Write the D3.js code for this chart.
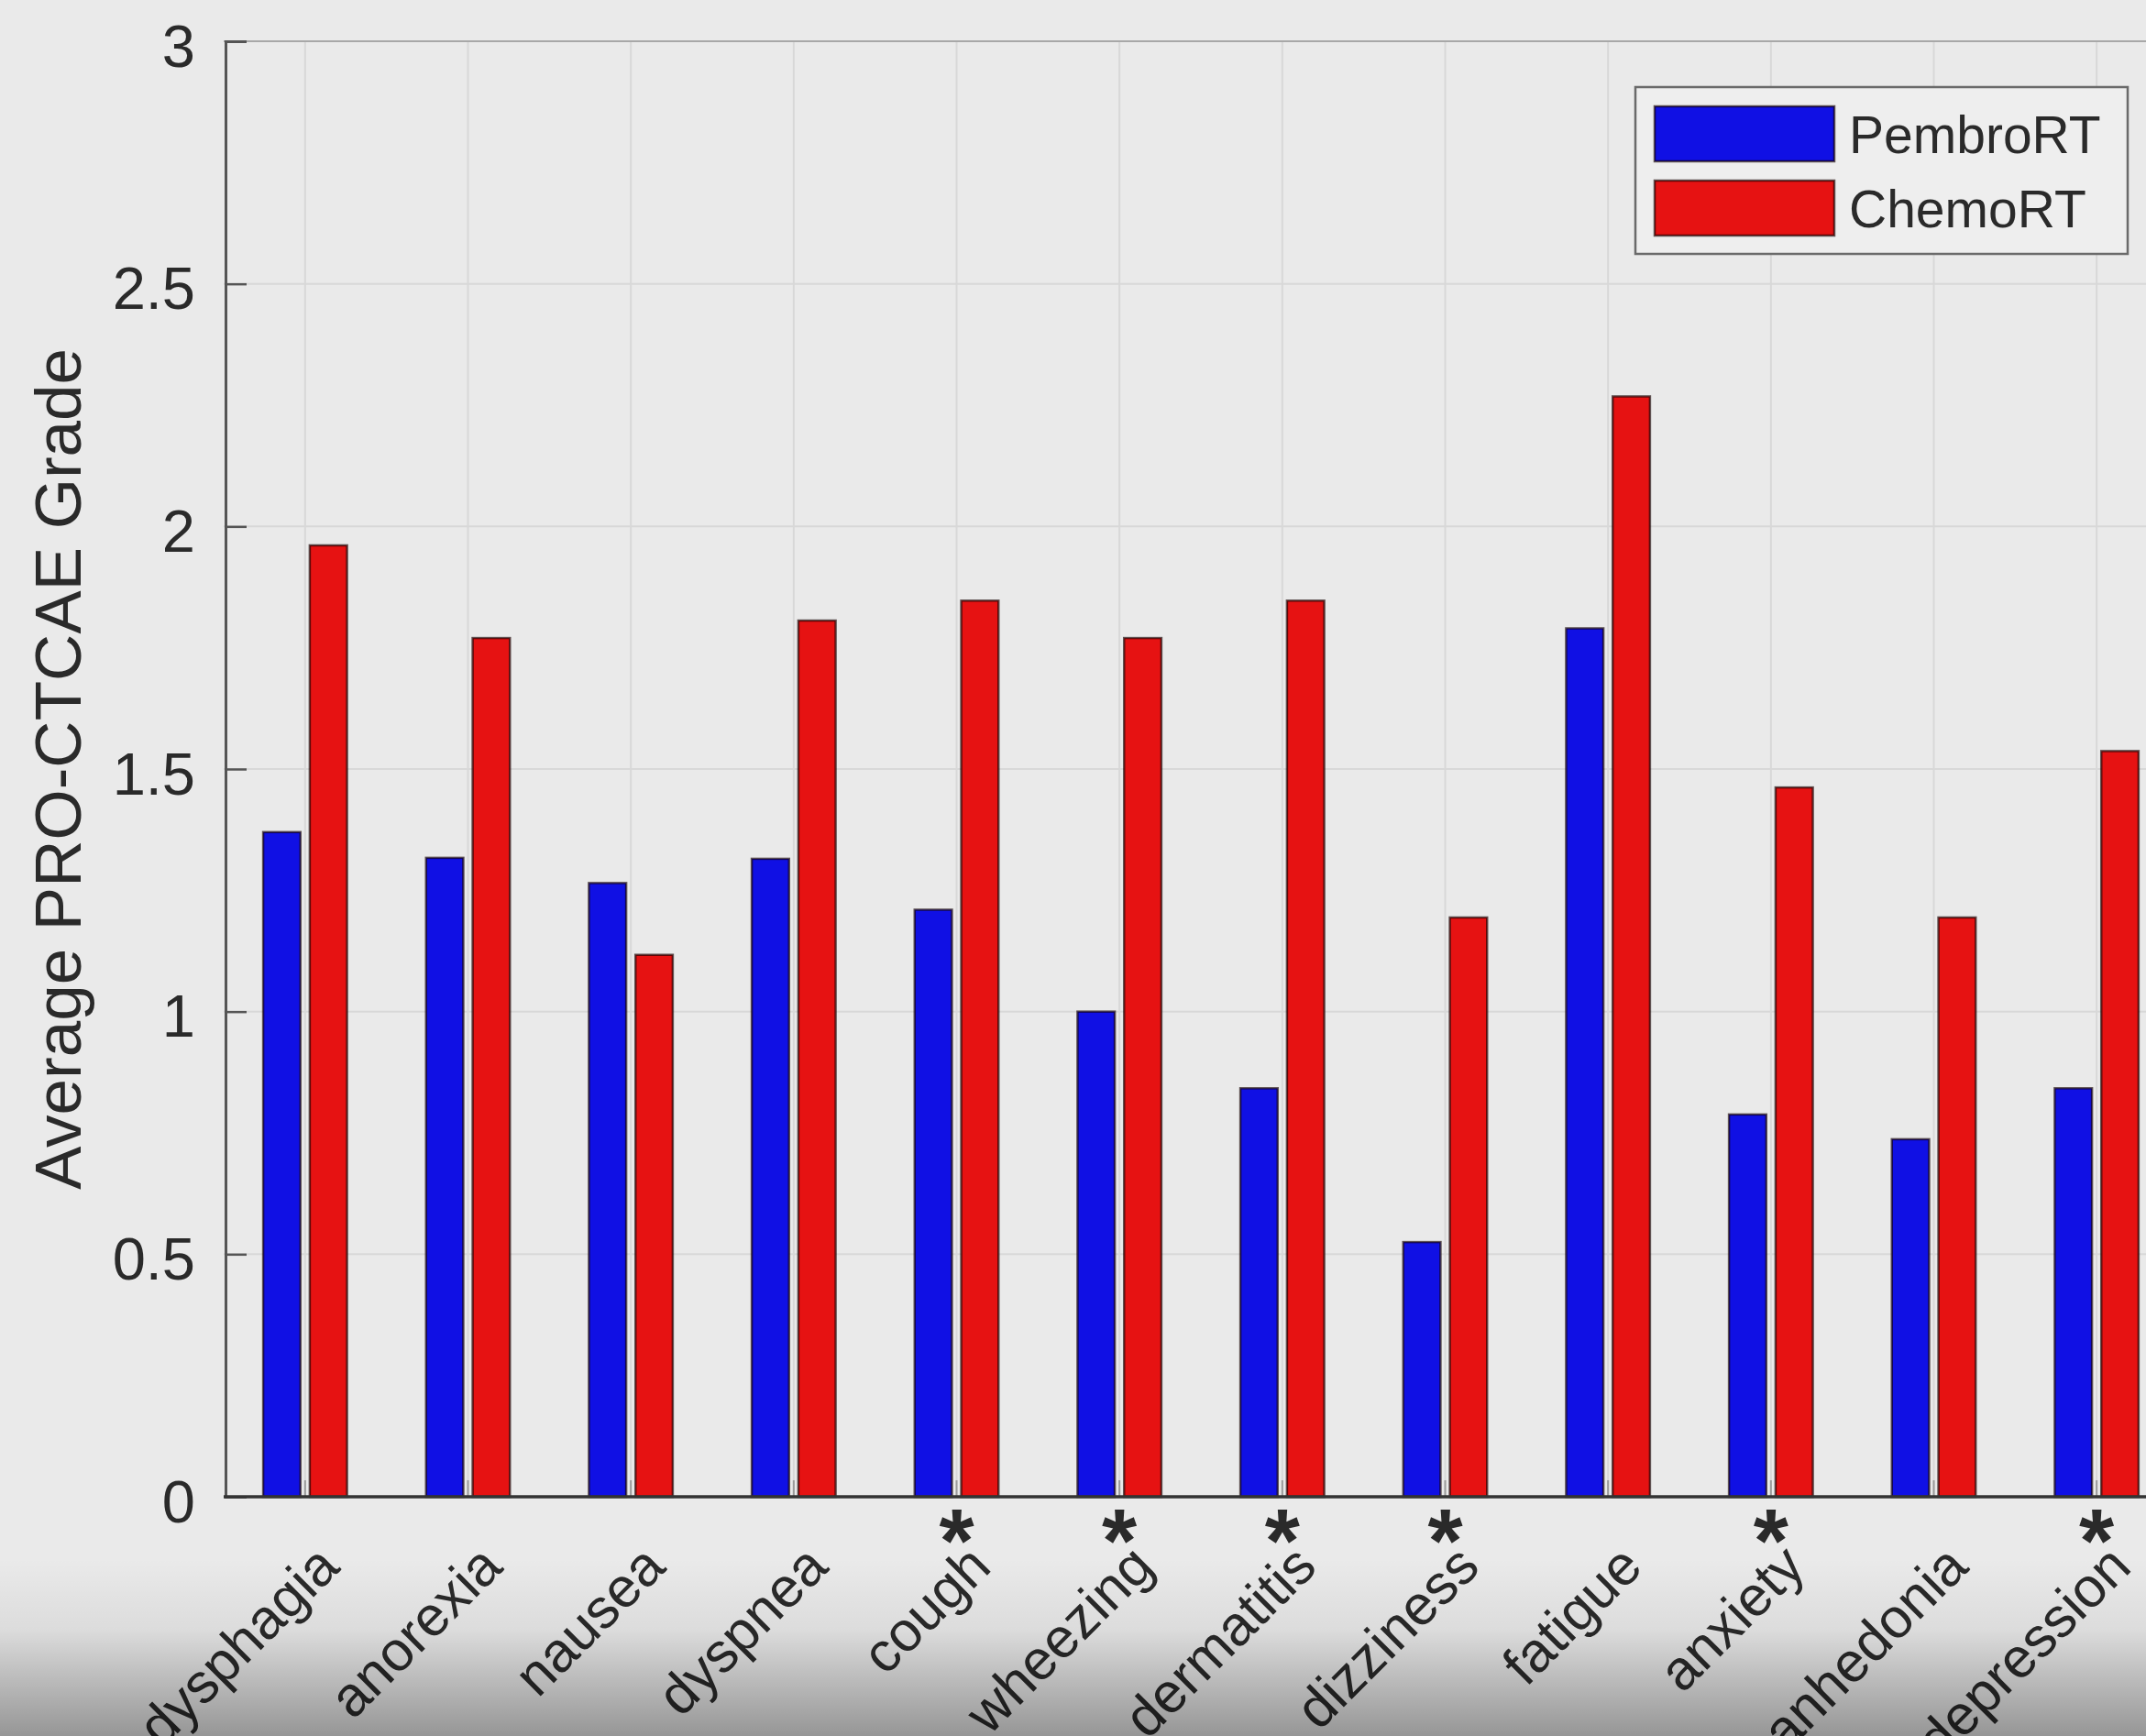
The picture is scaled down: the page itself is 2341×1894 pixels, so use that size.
<!DOCTYPE html>
<html>
<head>
<meta charset="utf-8">
<script src="https://cdn.jsdelivr.net/npm/d3@7"></script>
<style>
  html, body { margin: 0; padding: 0; background: #eaeaea; }
  svg { display: block; }
  text { font-family: "Liberation Sans", Arial, Helvetica, sans-serif; fill: #2a2a2a; }
</style>
</head>
<body>
<svg id="chart" width="2341" height="1894"></svg>
<script>
// Symptom categories (x axis)
const categories = ["dysphagia", "anorexia", "nausea", "dyspnea", "cough", "wheezing",
                    "dermatitis", "dizziness", "fatigue", "anxiety", "anhedonia", "depression"];
// Mean grade per arm
const pembroRT = [1.37, 1.317, 1.265, 1.315, 1.21, 1.0, 0.842, 0.525, 1.79, 0.788, 0.737, 0.842];
const chemoRT  = [1.961, 1.77, 1.117, 1.806, 1.847, 1.77, 1.847, 1.194, 2.268, 1.462, 1.194, 1.537];
// Categories with a significant difference between arms
const significant = ["cough", "wheezing", "dermatitis", "dizziness", "anxiety", "depression"];
// Axis ticks
const yTicks = [0, 0.5, 1, 1.5, 2, 2.5, 3];
const yTickLabels = ["0", "0.5", "1", "1.5", "2", "2.5", "3"];
const seriesNames = ["PembroRT", "ChemoRT"];
const seriesColors = ["#1010e4", "#e61212"];

const svg = d3.select("#chart");
const W = 2341, H = 1894;

svg.append("rect").attr("width", W).attr("height", H).attr("fill", "#eaeaea");

// Scales: category k sits at x = k (1-based), grouped bars offset around it
const x = d3.scaleLinear().domain([0.5, 12.5]).range([244, 2376]);
const y = d3.scaleLinear().domain([0, 3]).range([1633, 45]);
const unit = x(2) - x(1);
const barW = 0.229;          // bar width in category units
const offsets = [-0.143, 0.143];

const plot = svg.append("g");

// Grid
plot.append("g").selectAll("line.hg").data(yTicks.slice(1)).join("line")
  .attr("x1", x(0.5)).attr("x2", W)
  .attr("y1", d => y(d)).attr("y2", d => y(d))
  .attr("stroke", "#d8d8d8").attr("stroke-width", 2);
plot.append("g").selectAll("line.vg").data(categories).join("line")
  .attr("x1", (d, i) => x(i + 1)).attr("x2", (d, i) => x(i + 1))
  .attr("y1", y(3)).attr("y2", y(0))
  .attr("stroke", "#d8d8d8").attr("stroke-width", 2);

// Top box edge
plot.append("line")
  .attr("x1", x(0.5)).attr("x2", W).attr("y1", y(3)).attr("y2", y(3))
  .attr("stroke", "#a8a8a8").attr("stroke-width", 2);

// Bars
const series = [pembroRT, chemoRT];
series.forEach((vals, s) => {
  plot.append("g").selectAll("rect").data(vals).join("rect")
    .attr("x", (d, i) => x(i + 1 + offsets[s] - barW / 2))
    .attr("width", barW * unit)
    .attr("y", d => y(d))
    .attr("height", d => y(0) - y(d))
    .attr("fill", seriesColors[s])
    .attr("stroke", "rgba(20,0,0,0.65)")
    .attr("stroke-width", 2.5);
});

// Category ticks (inward)
plot.append("g").selectAll("line").data(categories).join("line")
  .attr("x1", (d, i) => x(i + 1)).attr("x2", (d, i) => x(i + 1))
  .attr("y1", y(0)).attr("y2", y(0) - 18)
  .attr("stroke", "#9a9a9a").attr("stroke-width", 2);

// Y axis: line, inward ticks, labels
const yAxis = d3.axisLeft(y).tickValues(yTicks).tickSize(-23)
  .tickFormat((d, i) => yTickLabels[i]).tickPadding(33);
const gy = svg.append("g").attr("transform", `translate(${x(0.5) + 2},0)`).call(yAxis);
gy.select(".domain").attr("stroke", "#555").attr("stroke-width", 3);
gy.selectAll(".tick line").attr("stroke", "#555").attr("stroke-width", 2.5);
gy.selectAll(".tick text")
  .attr("font-size", 65).attr("dy", 27).attr("fill", "#2a2a2a")
  .style("font-family", "'Liberation Sans', Arial, sans-serif");

// X axis baseline
svg.append("line")
  .attr("x1", x(0.5)).attr("x2", W).attr("y1", y(0)).attr("y2", y(0))
  .attr("stroke", "#333").attr("stroke-width", 3.5);

// Rotated category labels
svg.append("g").selectAll("text").data(categories).join("text")
  .attr("transform", (d, i) => `translate(${x(i + 1) + 40},${y(0) + 79}) rotate(-45)`)
  .attr("text-anchor", "end")
  .attr("font-size", 61)
  .text(d => d);

// Significance markers
svg.append("g").selectAll("text").data(significant).join("text")
  .attr("x", d => x(categories.indexOf(d) + 1))
  .attr("y", y(0) + 82)
  .attr("text-anchor", "middle")
  .attr("font-size", 98)
  .attr("font-weight", "bold")
  .attr("fill", "#111")
  .text("*");

// Y axis title
svg.append("text")
  .attr("transform", `translate(88,839) rotate(-90)`)
  .attr("text-anchor", "middle")
  .attr("font-size", 71)
  .text("Average PRO-CTCAE Grade");

// Legend
const lg = svg.append("g");
lg.append("rect").attr("x", 1784).attr("y", 95).attr("width", 537).attr("height", 182)
  .attr("fill", "#eeeeee").attr("stroke", "#6a6a6a").attr("stroke-width", 2.5);
seriesNames.forEach((name, s) => {
  const top = [116, 197][s];
  lg.append("rect").attr("x", 1805).attr("y", top).attr("width", 196).attr("height", 60)
    .attr("fill", seriesColors[s]).attr("stroke", "rgba(20,0,0,0.65)").attr("stroke-width", 2.5);
  lg.append("text").attr("x", 2017).attr("y", top + 51)
    .attr("font-size", 57).text(name);
});

// Darkened strip along the bottom edge
const defs = svg.append("defs");
const grad = defs.append("linearGradient").attr("id", "shade")
  .attr("gradientUnits", "userSpaceOnUse").attr("x1", 0).attr("x2", 0).attr("y1", 1700).attr("y2", H);
grad.append("stop").attr("offset", 0).attr("stop-color", "#000").attr("stop-opacity", 0);
grad.append("stop").attr("offset", 0.4).attr("stop-color", "#000").attr("stop-opacity", 0.06);
grad.append("stop").attr("offset", 1).attr("stop-color", "#000").attr("stop-opacity", 0.36);
svg.append("rect").attr("x", 0).attr("y", 1700).attr("width", W).attr("height", H - 1700)
  .attr("fill", "url(#shade)");
</script>
</body>
</html>
